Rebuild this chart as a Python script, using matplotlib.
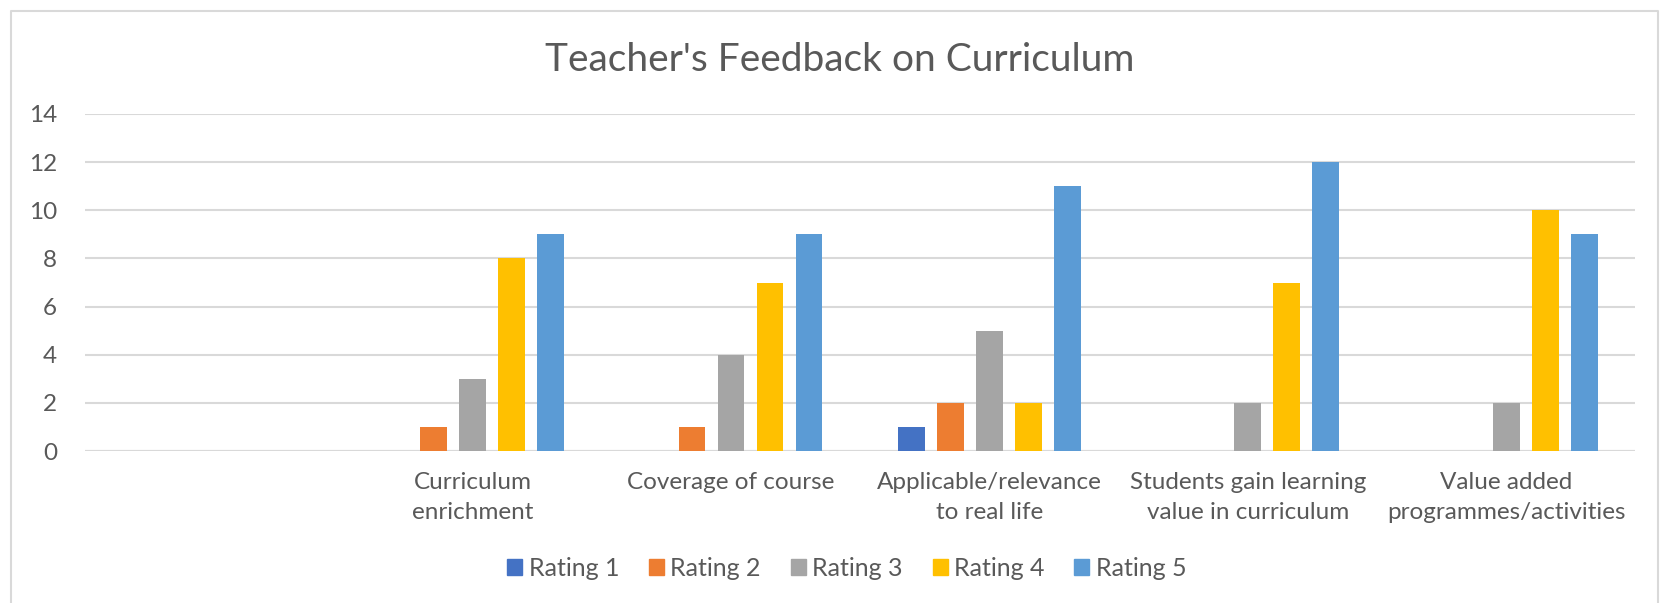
import matplotlib.pyplot as plt
from matplotlib.lines import Line2D
import numpy as np

plt.rcParams['font.family'] = ['Lato', 'DejaVu Sans']

# first slot is an empty category in the original sheet
categories = ['', 'Curriculum\nenrichment', 'Coverage of course',
              'Applicable/relevance\nto real life',
              'Students gain learning\nvalue in curriculum',
              'Value added\nprogrammes/activities']
series = ['Rating 1', 'Rating 2', 'Rating 3', 'Rating 4', 'Rating 5']
rating1 = [0, 0, 0, 1, 0, 0]
rating2 = [0, 1, 1, 2, 0, 0]
rating3 = [0, 3, 4, 5, 2, 2]
rating4 = [0, 8, 7, 2, 7, 10]
rating5 = [0, 9, 9, 11, 12, 9]
colors = ['#4472C4', '#ED7D31', '#A5A5A5', '#FFC000', '#5B9BD5']

fig = plt.figure(figsize=(16.67, 6.03), dpi=100)
ax = fig.add_axes([0.051, 0.252, 0.930, 0.559])

x = np.arange(len(categories))
step = 0.151
w = 0.104
for i, (vals, c, lab) in enumerate(zip([rating1, rating2, rating3, rating4, rating5], colors, series)):
    ax.bar(x + (i - 2) * step, vals, width=w, color=c, label=lab, zorder=3)

ax.set_xlim(-0.5, 5.5)
ax.set_ylim(0, 14)
ax.set_yticks(range(0, 15, 2))
ax.grid(axis='y', color='#D9D9D9', linewidth=1.5, zorder=0)
for s in ax.spines.values():
    s.set_visible(False)
ax.axhline(0, color='#D9D9D9', linewidth=1.5, zorder=1)
ax.set_xticks(x)
ax.set_xticklabels(categories, fontsize=17.5, color='#595959', linespacing=1.55)
ax.tick_params(axis='both', length=0, labelcolor='#595959')
ax.tick_params(axis='x', pad=15, labelsize=17.5)
ax.tick_params(axis='y', pad=20, labelsize=17.5)

fig.text(0.504, 0.900, "Teacher's Feedback on Curriculum", ha='center', va='center',
         fontsize=28, color='#595959')

handles = [plt.Rectangle((0, 0), 1, 1, color=c) for c in colors]
fig.legend(handles, series, loc='center', bbox_to_anchor=(0.508, 0.058), ncol=5,
           frameon=False, fontsize=18, labelcolor='#595959', handlelength=0.6,
           handleheight=0.6, handletextpad=0.25, columnspacing=1.2)

# chart area border
fig.add_artist(Line2D([0.0066, 0.0066, 0.9946, 0.9946], [0.0, 0.982, 0.982, 0.0],
                      color='#D9D9D9', linewidth=1.5, transform=fig.transFigure))

fig.savefig('out.png', dpi=100)
